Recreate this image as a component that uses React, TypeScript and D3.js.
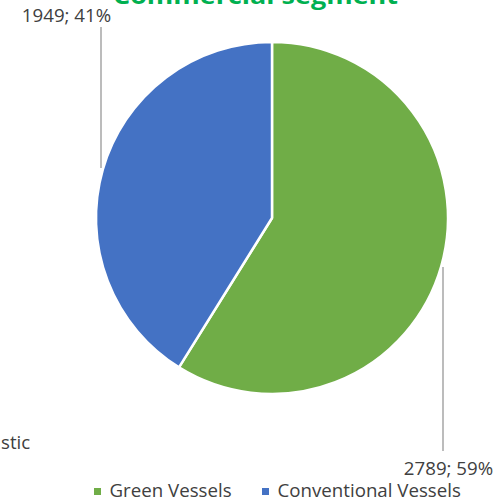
import React from "react";
import * as d3 from "d3";

const categories = ["Green Vessels", "Conventional Vessels"];
const values = [2789, 1949];
const colors = ["#70AD47", "#4472C4"];
const title = "Commercial segment";
const sideText = "stic";

const W = 498;
const H = 501;
const cx = 272;
const cy = 218;
const R = 176;

export default function App() {
  const total = d3.sum(values);
  const pie = d3
    .pie<number>()
    .sort(null)
    .value((d) => d);
  const arcs = pie(values);
  const arc = d3.arc<d3.PieArcDatum<number>>().innerRadius(0).outerRadius(R);
  const fmtLabel = (i: number) =>
    `${values[i]}; ${d3.format(".0%")(values[i] / total)}`;

  const font = "'Open Sans', 'Noto Sans', sans-serif";
  const textColor = "#404040";

  return (
    <svg
      width={W}
      height={H}
      style={{ position: "absolute", left: 0, top: 0, background: "#fff" }}
      fontFamily={font}
    >
      <text
        x={255.5}
        y={4}
        textAnchor="middle"
        fontWeight="bold"
        fontSize={23}
        fill="#00B050"
        textLength={285}
        lengthAdjust="spacingAndGlyphs"
      >
        {title}
      </text>
      <g transform={`translate(${cx},${cy})`}>
        {arcs.map((a, i) => (
          <path
            key={categories[i]}
            d={arc(a) || ""}
            fill={colors[i]}
            stroke="#fff"
            strokeWidth={2.5}
            strokeLinejoin="round"
          />
        ))}
      </g>
      {/* leader lines */}
      <line x1={443} y1={267} x2={443} y2={451} stroke="#A6A6A6" strokeWidth={1.5} />
      <line x1={101} y1={27} x2={101} y2={168} stroke="#A6A6A6" strokeWidth={1.5} />
      {/* data labels */}
      <text x={448.5} y={475} textAnchor="middle" fontSize={18.7} fill={textColor}>
        {fmtLabel(0)}
      </text>
      <text x={66.5} y={22} textAnchor="middle" fontSize={18.7} fill={textColor}>
        {fmtLabel(1)}
      </text>
      {/* partially visible text on left */}
      <text x={1} y={449} textAnchor="start" fontSize={18.7} fill={textColor}>
        {sideText}
      </text>
      {/* legend */}
      {categories.map((c, i) => {
        const lx = i === 0 ? 94 : 262;
        return (
          <g key={c} transform={`translate(${lx},0)`}>
            <rect x={0} y={488} width={7} height={7} fill={colors[i]} />
            <text x={15.5} y={497} fontSize={18.7} fill={textColor}>
              {c}
            </text>
          </g>
        );
      })}
    </svg>
  );
}
